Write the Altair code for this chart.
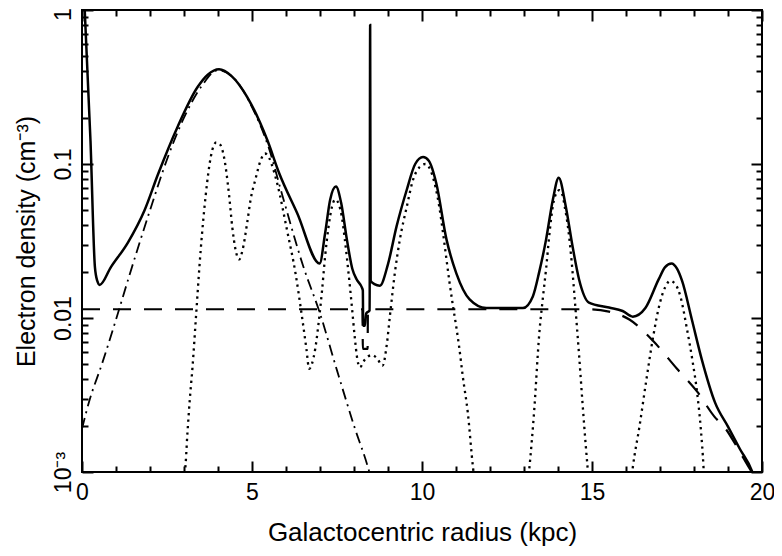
import altair as alt
import pandas as pd

# ---- data (x in kpc, y = electron density in cm^-3) ----
solid_x = [0.08, 0.25, 0.38, 0.45, 0.52, 0.85, 1.35, 1.84, 2.23, 2.81, 3.40, 3.70, 4.03, 4.40,
           4.86, 5.45, 5.80, 6.33, 6.99, 7.15, 7.30, 7.47, 7.62, 7.79, 7.95, 8.08, 8.23, 8.26,
           8.27, 8.32, 8.36, 8.46, 8.475, 8.49, 8.60, 8.76, 9.00, 9.25, 9.55, 9.80, 10.03, 10.20,
           10.42, 10.72, 11.01, 11.40, 11.89, 12.97, 13.26, 13.45, 13.65, 13.85, 14.02, 14.23,
           14.43, 14.62, 14.91, 15.50, 15.90, 16.20, 16.57, 16.96, 17.15, 17.34, 17.50, 17.65,
           17.94, 18.23, 18.62, 19.00, 19.35, 19.70, 19.75]
solid_y = [1.0, 0.141, 0.0214, 0.0174, 0.0164, 0.0214, 0.0309, 0.0501, 0.0851, 0.174, 0.316, 0.380,
           0.412, 0.372, 0.272, 0.143, 0.0871, 0.0479, 0.0226, 0.0355, 0.0589, 0.0713, 0.0562,
           0.0324, 0.0209, 0.0178, 0.0158, 0.0151, 0.00891, 0.00891, 0.0107, 0.0112, 0.80, 0.0174,
           0.0166, 0.0162, 0.0224, 0.0392, 0.0678, 0.100, 0.111, 0.105, 0.075, 0.0324, 0.0195,
           0.0132, 0.0116, 0.0116, 0.0138, 0.0200, 0.0324, 0.0589, 0.0815, 0.0528, 0.0290, 0.0178,
           0.0126, 0.0117, 0.0111, 0.0102, 0.0116, 0.0178, 0.0214, 0.0226, 0.0209, 0.0174, 0.0097,
           0.00537, 0.00282, 0.00197, 0.00141, 0.00102, 0.00095]

dashed_x = [0.0, 8.25, 8.26, 8.40, 8.41, 14.9, 15.5, 16.1, 16.8, 17.5, 18.1, 18.6, 18.9, 19.3, 19.7, 19.8]
dashed_y = [0.0114, 0.0114, 0.0063, 0.0063, 0.0114, 0.0114, 0.0110, 0.00977, 0.00708, 0.00468,
            0.00331, 0.00229, 0.00195, 0.00141, 0.00100, 0.00093]

dashdot_x = [0.0, 0.2, 0.6, 1.0, 1.4, 2.0, 2.5, 3.0, 3.5, 4.0, 4.5, 5.0, 5.5, 5.9, 6.5, 7.0, 7.5,
             8.0, 8.45, 8.5]
dashdot_y = [0.00191, 0.00282, 0.00513, 0.00977, 0.0191, 0.0501, 0.107, 0.200, 0.316, 0.407, 0.355,
             0.234, 0.126, 0.0617, 0.0219, 0.0107, 0.00457, 0.0020, 0.0010, 0.00091]

arms_a_x = [2.95, 3.03, 3.10, 3.17, 3.25, 3.35, 3.49, 3.64, 3.79, 3.95, 4.05, 4.18, 4.32, 4.42,
            4.52, 4.62, 4.72, 4.86, 4.96, 5.10, 5.25, 5.38, 5.50, 5.62, 5.74, 6.03, 6.28, 6.47,
            6.60, 6.68, 6.76, 6.86, 6.96, 7.06, 7.15, 7.25, 7.35, 7.45, 7.55, 7.64, 7.73, 7.84,
            7.94, 8.02, 8.10, 8.17, 8.32, 8.52, 8.67, 8.84, 8.96, 9.06, 9.20, 9.35, 9.55, 9.74,
            9.93, 10.10, 10.30, 10.51, 10.62, 10.72, 10.81, 10.91, 11.01, 11.10, 11.20, 11.35,
            11.50, 11.55]
arms_a_y = [0.00089, 0.00102, 0.00178, 0.00295, 0.00479, 0.0100, 0.0275, 0.0631, 0.112, 0.138,
            0.135, 0.110, 0.0646, 0.0389, 0.0275, 0.0240, 0.0275, 0.0417, 0.0589, 0.0794, 0.105,
            0.117, 0.110, 0.0933, 0.0750, 0.0372, 0.0195, 0.0102, 0.00631, 0.00468, 0.00501,
            0.00631, 0.00933, 0.0151, 0.0251, 0.0389, 0.0525, 0.0589, 0.0550, 0.0457, 0.0324,
            0.0195, 0.0117, 0.00759, 0.00537, 0.00479, 0.00537, 0.00575, 0.00550, 0.00490,
            0.00661, 0.0105, 0.0195, 0.0324, 0.0525, 0.0794, 0.0955, 0.100, 0.0851, 0.0525,
            0.0355, 0.0240, 0.0170, 0.0120, 0.00871, 0.00631, 0.00417, 0.00240, 0.00107, 0.00087]

arms_b_x = [13.12, 13.16, 13.30, 13.45, 13.55, 13.65, 13.75, 13.85, 13.95, 14.04, 14.13, 14.20,
            14.30, 14.40, 14.50, 14.62, 14.72, 14.82, 14.88, 14.90]
arms_b_y = [0.00087, 0.00107, 0.00251, 0.00794, 0.0132, 0.0209, 0.0355, 0.0537, 0.0646, 0.0676,
            0.0631, 0.0525, 0.0380, 0.0234, 0.0126, 0.00575, 0.00282, 0.00145, 0.00100, 0.00087]

arms_c_x = [16.15, 16.20, 16.40, 16.60, 16.80, 17.00, 17.15, 17.30, 17.45, 17.60, 17.80, 17.95,
            18.10, 18.20, 18.28, 18.30]
arms_c_y = [0.00087, 0.00107, 0.00200, 0.00398, 0.00759, 0.0126, 0.0158, 0.0174, 0.0166, 0.0138,
            0.00832, 0.00537, 0.00316, 0.00191, 0.00107, 0.00087]

x_major = [0, 5, 10, 15, 20]
x_minor = [1, 2, 3, 4, 6, 7, 8, 9, 11, 12, 13, 14, 16, 17, 18, 19]
y_major = [0.001, 0.01, 0.1, 1]
y_minor = [0.002, 0.003, 0.004, 0.005, 0.006, 0.007, 0.008, 0.009,
           0.02, 0.03, 0.04, 0.05, 0.06, 0.07, 0.08, 0.09,
           0.2, 0.3, 0.4, 0.5, 0.6, 0.7, 0.8, 0.9]
y_labels = ["10⁻³", "0.01", "0.1", "1"]


def frame(xs, ys, seg):
    return pd.DataFrame({"x": xs, "y": ys, "seg": seg})


solid_df = frame(solid_x, solid_y, "total")
dashed_df = frame(dashed_x, dashed_y, "thick")
dashdot_df = frame(dashdot_x, dashdot_y, "thin")
dotted_df = pd.concat([frame(arms_a_x, arms_a_y, "a"),
                       frame(arms_b_x, arms_b_y, "b"),
                       frame(arms_c_x, arms_c_y, "c")])

FONT = "Liberation Sans"
xs = alt.Scale(domain=[0, 20], nice=False, zero=False)
ys = alt.Scale(type="log", domain=[0.001, 1], nice=False)

label_expr = ("datum.value < 0.005 ? '%s' : datum.value < 0.05 ? '%s' : "
              "datum.value < 0.5 ? '%s' : '%s'") % tuple(y_labels)

# axes
x_lab = alt.Axis(orient="bottom", values=x_major, ticks=False, domain=False, grid=False,
                 labelFont=FONT, labelFontSize=23, labelPadding=9, labelFlush=False,
                 labelOverlap=False, labelColor="black",
                 title="Galactocentric radius (kpc)", titleFont=FONT, titleFontSize=26,
                 titleFontWeight="normal", titlePadding=15, titleColor="black")
y_lab = alt.Axis(orient="left", values=y_major, ticks=False, domain=False, grid=False,
                 labelExpr=label_expr, labelAngle=270, labelAlign="center",
                 labelBaseline="alphabetic", labelFont=FONT, labelFontSize=23, labelPadding=12,
                 labelOffset={"condition": {"test": "datum.value >= 0.5", "value": 4}, "value": 0},
                 labelFlush=False, labelOverlap=False, labelColor="black",
                 title="Electron density (cm⁻³)", titleFont=FONT, titleFontSize=25,
                 titleFontWeight="normal", titlePadding=13, titleColor="black")


def tick_axis(orient, values, size):
    return alt.Axis(orient=orient, values=values, labels=False, domain=False, grid=False,
                    ticks=True, tickSize={"expr": str(-size)}, tickWidth=2, tickColor="black",
                    title=None)


def line(df, xaxis, yaxis, width, dash=None, opacity=1.0):
    kw = dict(clip=True, color="black", strokeWidth=width, strokeOpacity=opacity,
              interpolate="monotone")
    if dash is not None:
        kw["strokeDash"] = dash
    return alt.Chart(df).mark_line(**kw).encode(
        x=alt.X("x:Q", scale=xs, axis=xaxis),
        y=alt.Y("y:Q", scale=ys, axis=yaxis),
        detail="seg:N",
    )


layers = [
    line(dotted_df, x_lab, y_lab, 2.3, [2.3, 4.2]),
    line(dashdot_df, tick_axis("bottom", x_major, 11), tick_axis("left", y_major, 11), 1.8,
         [11, 5, 2, 5]),
    line(dashed_df, tick_axis("bottom", x_minor, 6), tick_axis("left", y_minor, 6), 2.2, [18, 13]),
    line(solid_df, tick_axis("top", x_major, 11), tick_axis("right", y_major, 11), 2.5),
    line(solid_df, tick_axis("top", x_minor, 6), tick_axis("right", y_minor, 6), 1, None, 0.0),
]

chart = alt.layer(*layers).resolve_axis(x="independent", y="independent").properties(
    width=680, height=462, autosize="none",
    padding={"left": 74, "top": 2, "right": 12, "bottom": 76},
    background="white",
).configure_view(stroke="black", strokeWidth=2)

chart.save("out.html", embed_options={"renderer": "svg", "actions": False})
